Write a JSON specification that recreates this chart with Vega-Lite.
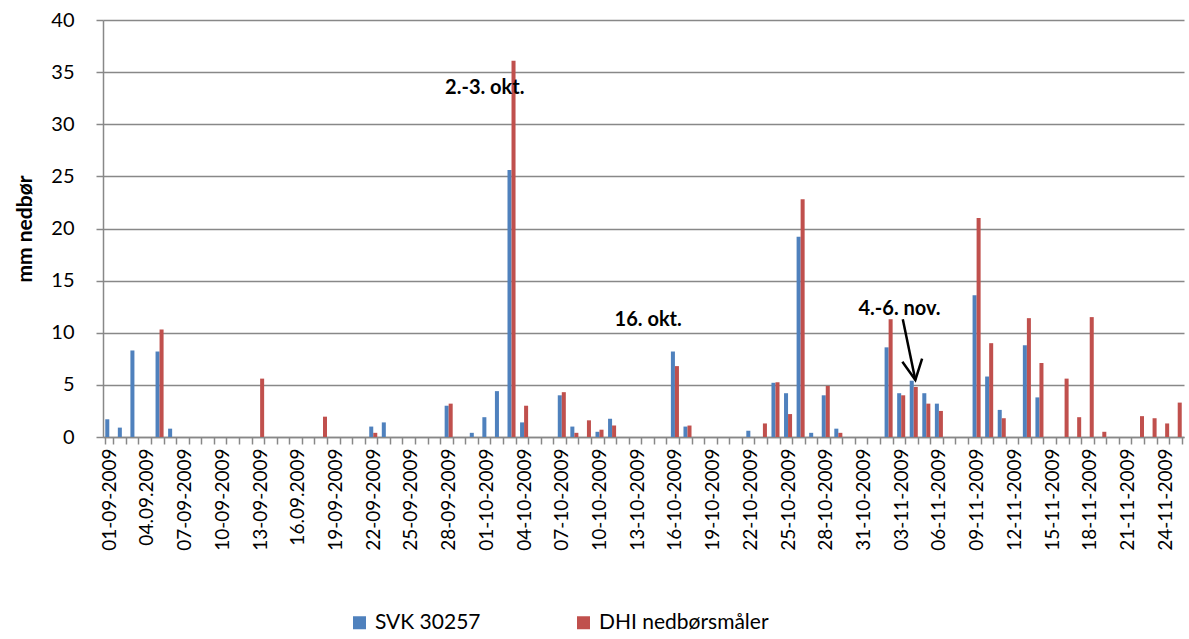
{
  "$schema": "https://vega.github.io/schema/vega-lite/v6.json",
  "autosize": {"type": "none"},
  "width": 1081,
  "height": 417,
  "padding": {"left": 103, "top": 20, "right": 5, "bottom": 202},
  "background": "white",
  "config": {"font": "Lato", "view": {"stroke": null}},
  "datasets": {
    "rain": [
      {"date": "01-09-2009", "svk": 1.7, "dhi": 0},
      {"date": "02-09-2009", "svk": 0.9, "dhi": 0},
      {"date": "03-09-2009", "svk": 8.3, "dhi": 0},
      {"date": "04.09.2009", "svk": 0, "dhi": 0},
      {"date": "05-09-2009", "svk": 8.2, "dhi": 10.3},
      {"date": "06-09-2009", "svk": 0.8, "dhi": 0},
      {"date": "07-09-2009", "svk": 0, "dhi": 0},
      {"date": "08-09-2009", "svk": 0, "dhi": 0},
      {"date": "09-09-2009", "svk": 0, "dhi": 0},
      {"date": "10-09-2009", "svk": 0, "dhi": 0},
      {"date": "11-09-2009", "svk": 0, "dhi": 0},
      {"date": "12-09-2009", "svk": 0, "dhi": 0},
      {"date": "13-09-2009", "svk": 0, "dhi": 5.6},
      {"date": "14-09-2009", "svk": 0, "dhi": 0},
      {"date": "15-09-2009", "svk": 0, "dhi": 0},
      {"date": "16.09.2009", "svk": 0, "dhi": 0},
      {"date": "17-09-2009", "svk": 0, "dhi": 0},
      {"date": "18-09-2009", "svk": 0, "dhi": 1.95},
      {"date": "19-09-2009", "svk": 0, "dhi": 0},
      {"date": "20-09-2009", "svk": 0, "dhi": 0},
      {"date": "21-09-2009", "svk": 0, "dhi": 0},
      {"date": "22-09-2009", "svk": 1.0, "dhi": 0.4},
      {"date": "23-09-2009", "svk": 1.4, "dhi": 0},
      {"date": "24-09-2009", "svk": 0, "dhi": 0},
      {"date": "25-09-2009", "svk": 0, "dhi": 0},
      {"date": "26-09-2009", "svk": 0, "dhi": 0},
      {"date": "27-09-2009", "svk": 0, "dhi": 0},
      {"date": "28-09-2009", "svk": 3.0, "dhi": 3.2},
      {"date": "29-09-2009", "svk": 0, "dhi": 0},
      {"date": "30-09-2009", "svk": 0.4, "dhi": 0},
      {"date": "01-10-2009", "svk": 1.9, "dhi": 0},
      {"date": "02-10-2009", "svk": 4.4, "dhi": 0},
      {"date": "03-10-2009", "svk": 25.6, "dhi": 36.1},
      {"date": "04-10-2009", "svk": 1.4, "dhi": 3.0},
      {"date": "05-10-2009", "svk": 0, "dhi": 0},
      {"date": "06-10-2009", "svk": 0, "dhi": 0},
      {"date": "07-10-2009", "svk": 4.0, "dhi": 4.3},
      {"date": "08-10-2009", "svk": 1.0, "dhi": 0.4},
      {"date": "09-10-2009", "svk": 0, "dhi": 1.6},
      {"date": "10-10-2009", "svk": 0.5, "dhi": 0.7},
      {"date": "11-10-2009", "svk": 1.75, "dhi": 1.1},
      {"date": "12-10-2009", "svk": 0, "dhi": 0},
      {"date": "13-10-2009", "svk": 0, "dhi": 0},
      {"date": "14-10-2009", "svk": 0, "dhi": 0},
      {"date": "15-10-2009", "svk": 0, "dhi": 0},
      {"date": "16-10-2009", "svk": 8.2, "dhi": 6.8},
      {"date": "17-10-2009", "svk": 1.0, "dhi": 1.1},
      {"date": "18-10-2009", "svk": 0, "dhi": 0},
      {"date": "19-10-2009", "svk": 0, "dhi": 0},
      {"date": "20-10-2009", "svk": 0, "dhi": 0},
      {"date": "21-10-2009", "svk": 0, "dhi": 0},
      {"date": "22-10-2009", "svk": 0.6, "dhi": 0},
      {"date": "23-10-2009", "svk": 0, "dhi": 1.3},
      {"date": "24-10-2009", "svk": 5.2, "dhi": 5.25},
      {"date": "25-10-2009", "svk": 4.2, "dhi": 2.2},
      {"date": "26-10-2009", "svk": 19.2, "dhi": 22.8},
      {"date": "27-10-2009", "svk": 0.4, "dhi": 0},
      {"date": "28-10-2009", "svk": 4.0, "dhi": 4.9},
      {"date": "29-10-2009", "svk": 0.8, "dhi": 0.4},
      {"date": "30-10-2009", "svk": 0, "dhi": 0},
      {"date": "31-10-2009", "svk": 0, "dhi": 0},
      {"date": "01-11-2009", "svk": 0, "dhi": 0},
      {"date": "02-11-2009", "svk": 8.6, "dhi": 11.3},
      {"date": "03-11-2009", "svk": 4.2, "dhi": 4.0},
      {"date": "04-11-2009", "svk": 5.4, "dhi": 4.8},
      {"date": "05-11-2009", "svk": 4.2, "dhi": 3.2},
      {"date": "06-11-2009", "svk": 3.2, "dhi": 2.5},
      {"date": "07-11-2009", "svk": 0, "dhi": 0},
      {"date": "08-11-2009", "svk": 0, "dhi": 0},
      {"date": "09-11-2009", "svk": 13.6, "dhi": 21.0},
      {"date": "10-11-2009", "svk": 5.8, "dhi": 9.0},
      {"date": "11-11-2009", "svk": 2.6, "dhi": 1.8},
      {"date": "12-11-2009", "svk": 0, "dhi": 0},
      {"date": "13-11-2009", "svk": 8.8, "dhi": 11.4},
      {"date": "14-11-2009", "svk": 3.8, "dhi": 7.1},
      {"date": "15-11-2009", "svk": 0, "dhi": 0},
      {"date": "16-11-2009", "svk": 0, "dhi": 5.6},
      {"date": "17-11-2009", "svk": 0, "dhi": 1.9},
      {"date": "18-11-2009", "svk": 0, "dhi": 11.5},
      {"date": "19-11-2009", "svk": 0, "dhi": 0.5},
      {"date": "20-11-2009", "svk": 0, "dhi": 0},
      {"date": "21-11-2009", "svk": 0, "dhi": 0},
      {"date": "22-11-2009", "svk": 0, "dhi": 2.0},
      {"date": "23-11-2009", "svk": 0, "dhi": 1.8},
      {"date": "24-11-2009", "svk": 0, "dhi": 1.3},
      {"date": "25-11-2009", "svk": 0, "dhi": 3.3}
    ],
    "notes": [
      {"date": "01-10-2009", "mm": 33.5, "label": "2.-3. okt."},
      {"date": "14-10-2009", "mm": 11.2, "label": "16. okt."},
      {"date": "03-11-2009", "mm": 12.3, "label": "4.-6. nov."}
    ],
    "arrow": [
      {"date": "03-11-2009", "mm": 11.3},
      {"date": "04-11-2009", "mm": 5.47}
    ],
    "arrowTip": [
      {"date": "04-11-2009", "mm": 5.47}
    ]
  },
  "layer": [
    {
      "data": {"name": "rain"},
      "transform": [{"fold": ["svk", "dhi"], "as": ["series", "mm"]}],
      "mark": {"type": "bar"},
      "encoding": {
        "x": {
          "field": "date",
          "type": "nominal",
          "sort": null,
          "scale": {"paddingInner": 0.36, "paddingOuter": 0.18},
          "axis": {
            "title": null,
            "labelAngle": -90,
            "labelExpr": "indexof(domain('x'), datum.value) % 3 === 0 ? datum.label : ''",
            "labelOverlap": false,
            "labelBound": false,
            "labelFontSize": 19,
            "labelColor": "black",
            "labelPadding": 4,
            "tickBand": "extent",
            "tickSize": 7,
            "tickColor": "#888888",
            "tickWidth": 1.5,
            "domainColor": "#888888",
            "domainWidth": 1.5,
            "grid": false
          }
        },
        "xOffset": {"field": "series", "type": "nominal", "sort": ["svk", "dhi"], "scale": {"paddingInner": 0, "paddingOuter": 0}},
        "y": {
          "field": "mm",
          "type": "quantitative",
          "scale": {"domain": [0, 40], "nice": false},
          "axis": {
            "title": "mm nedbør",
            "titleFontSize": 21,
            "titleFontWeight": "bold",
            "titleColor": "black",
            "titlePadding": 15,
            "values": [0, 5, 10, 15, 20, 25, 30, 35, 40],
            "labelFontSize": 20,
            "labelColor": "black",
            "labelPadding": 22,
            "tickSize": 7,
            "tickColor": "#888888",
            "tickWidth": 1.5,
            "domainColor": "#888888",
            "domainWidth": 1.5,
            "grid": true,
            "gridColor": "#888888",
            "gridWidth": 1.5
          }
        },
        "color": {
          "field": "series",
          "type": "nominal",
          "scale": {"domain": ["svk", "dhi"], "range": ["#4F81BD", "#C0504D"]},
          "legend": {
            "title": null,
            "orient": "none",
            "direction": "horizontal",
            "legendX": 246,
            "legendY": 592,
            "symbolType": "square",
            "symbolSize": 169,
            "symbolStrokeWidth": 0,
            "labelFontSize": 21,
            "labelLimit": 0,
            "labelColor": "black",
            "labelOffset": 5,
            "columnPadding": 92,
            "labelExpr": "datum.value === 'svk' ? 'SVK 30257' : 'DHI nedbørsmåler'"
          }
        }
      }
    },
    {
      "data": {"name": "notes"},
      "mark": {"type": "text", "fontWeight": "bold", "fontSize": 20, "align": "center", "baseline": "middle", "color": "black"},
      "encoding": {
        "x": {"field": "date", "type": "nominal", "sort": null, "bandPosition": 0.3},
        "y": {"field": "mm", "type": "quantitative"},
        "text": {"field": "label"}
      }
    },
    {
      "data": {"name": "arrow"},
      "mark": {"type": "line", "color": "black", "strokeWidth": 2.5},
      "encoding": {
        "x": {"field": "date", "type": "nominal", "sort": null, "bandPosition": 0.7},
        "y": {"field": "mm", "type": "quantitative"}
      }
    },
    {
      "data": {"name": "arrowTip"},
      "mark": {"type": "point", "shape": "M-0.5,-1L0,0L0.5,-1", "size": 1600, "filled": false, "color": "black", "opacity": 1, "strokeWidth": 2.5, "angle": -9},
      "encoding": {
        "x": {"field": "date", "type": "nominal", "sort": null, "bandPosition": 0.7},
        "y": {"field": "mm", "type": "quantitative"}
      }
    }
  ]
}
